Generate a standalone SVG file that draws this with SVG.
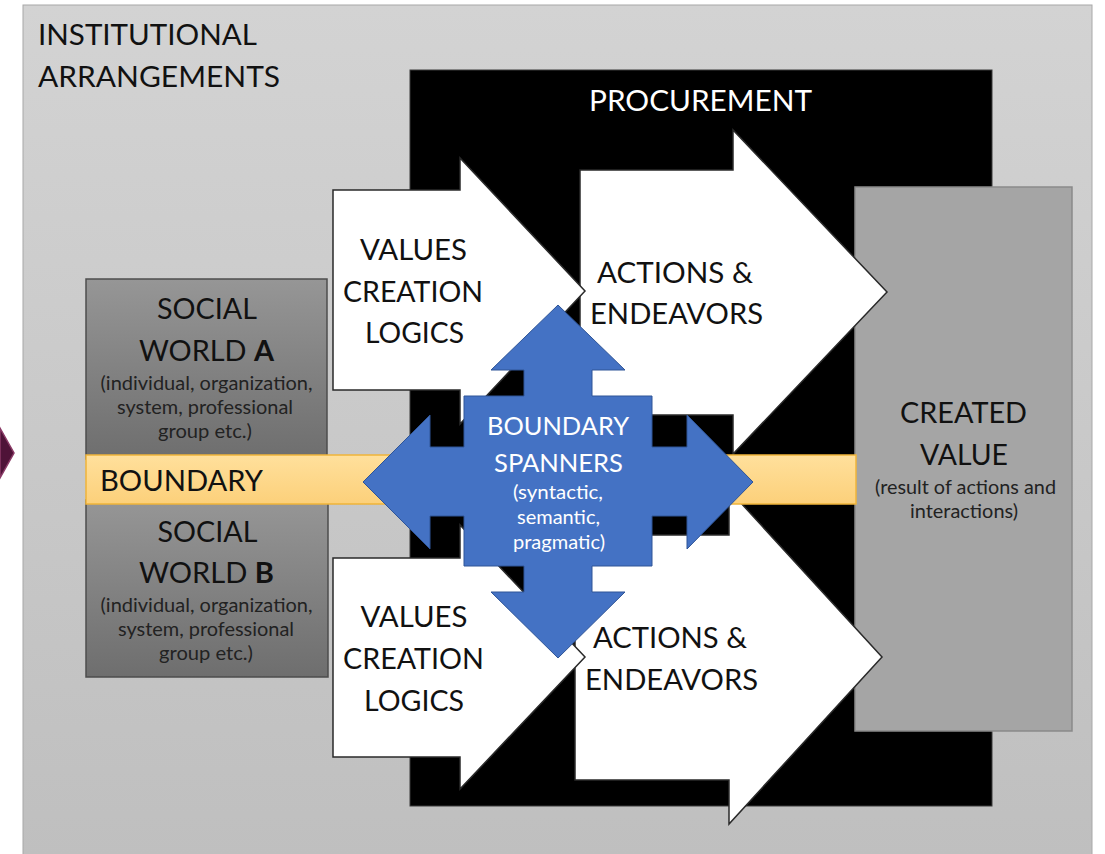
<svg xmlns="http://www.w3.org/2000/svg" width="1105" height="854" viewBox="0 0 1105 854">
<defs>
<linearGradient id="gPanel" x1="0" y1="0" x2="0" y2="1"><stop offset="0" stop-color="#d3d3d3"/><stop offset="1" stop-color="#bfbfbf"/></linearGradient>
<linearGradient id="gWorld" x1="0" y1="0" x2="0" y2="1"><stop offset="0" stop-color="#969696"/><stop offset="1" stop-color="#6e6e6e"/></linearGradient>
<linearGradient id="gBand" x1="0" y1="0" x2="0" y2="1"><stop offset="0" stop-color="#ffe09c"/><stop offset="1" stop-color="#fcd07a"/></linearGradient>
<style>
text{font-family:Lato,"Liberation Sans",Arial,sans-serif;fill:#111;}
.big{font-size:29px;}
.mid{font-size:28px;}
.sm{font-size:19.5px;fill:#222;}
.c{text-anchor:middle;}
.w{fill:#fff;}
.arrow{fill:#fff;stroke:#2a2a2a;stroke-width:1.5;stroke-linejoin:miter;}
.world{fill:url(#gWorld);stroke:#4d4d4d;stroke-width:1.5;}
</style>
</defs>
<rect width="1105" height="854" fill="#fff"/>
<g id="institutional">
<rect x="23" y="5" width="1069" height="852" fill="url(#gPanel)" stroke="#a8a8a8" stroke-width="1"/>
<text class="big" x="38" y="45" textLength="219" lengthAdjust="spacingAndGlyphs">INSTITUTIONAL</text>
<text class="big" x="38" y="87" textLength="242" lengthAdjust="spacingAndGlyphs">ARRANGEMENTS</text>
</g>
<g id="edge-shape">
<polygon points="0,428 14,453 0,478" fill="#4f1338" stroke="#8a3a66" stroke-width="1.5"/>
</g>
<g id="procurement">
<rect x="410" y="70" width="582" height="736" fill="#000" stroke="#3a3a3a" stroke-width="1"/>
<text class="big w c" x="700.5" y="111" textLength="223" lengthAdjust="spacingAndGlyphs">PROCUREMENT</text>
</g>
<g id="created-value">
<rect x="855" y="187" width="217" height="544" fill="#a5a5a5" stroke="#8a8a8a" stroke-width="1.5"/>
<text class="mid c" x="963.5" y="423" textLength="127" lengthAdjust="spacingAndGlyphs">CREATED</text>
<text class="mid c" x="964" y="465" textLength="88" lengthAdjust="spacingAndGlyphs">VALUE</text>
<text class="sm c" x="965.5" y="494" textLength="181" lengthAdjust="spacingAndGlyphs">(result of actions and</text>
<text class="sm c" x="964" y="518" textLength="108" lengthAdjust="spacingAndGlyphs">interactions)</text>
</g>
<g id="social-world-a">
<rect class="world" x="86" y="279" width="241" height="180"/>
<text class="mid c" x="207" y="319" textLength="100" lengthAdjust="spacingAndGlyphs">SOCIAL</text>
<text class="mid c" x="206.5" y="361" textLength="135" lengthAdjust="spacingAndGlyphs">WORLD <tspan font-weight="bold">A</tspan></text>
<text class="sm c" x="206.5" y="390" textLength="212" lengthAdjust="spacingAndGlyphs">(individual, organization,</text>
<text class="sm c" x="205" y="414" textLength="176" lengthAdjust="spacingAndGlyphs">system, professional</text>
<text class="sm c" x="205" y="438" textLength="94" lengthAdjust="spacingAndGlyphs">group etc.)</text>
</g>
<g id="social-world-b">
<rect class="world" x="86" y="500" width="242" height="177"/>
<text class="mid c" x="207.5" y="542" textLength="100" lengthAdjust="spacingAndGlyphs">SOCIAL</text>
<text class="mid c" x="206.5" y="583" textLength="135" lengthAdjust="spacingAndGlyphs">WORLD <tspan font-weight="bold">B</tspan></text>
<text class="sm c" x="206.5" y="612" textLength="212" lengthAdjust="spacingAndGlyphs">(individual, organization,</text>
<text class="sm c" x="206" y="636" textLength="176" lengthAdjust="spacingAndGlyphs">system, professional</text>
<text class="sm c" x="206" y="660" textLength="94" lengthAdjust="spacingAndGlyphs">group etc.)</text>
</g>
<g id="actions-top">
<polygon class="arrow" points="580,170 733,170 733,130 887,292 733,454 733,415 580,415"/>
<text class="mid" x="597" y="283" textLength="156" lengthAdjust="spacingAndGlyphs">ACTIONS &amp;</text>
<text class="mid" x="590" y="324" textLength="173" lengthAdjust="spacingAndGlyphs">ENDEAVORS</text>
</g>
<g id="actions-bottom">
<polygon class="arrow" points="575,535 729,535 729,490 882,657 729,824 729,780 575,780"/>
<text class="mid" x="593" y="648" textLength="154" lengthAdjust="spacingAndGlyphs">ACTIONS &amp;</text>
<text class="mid" x="585" y="690" textLength="173" lengthAdjust="spacingAndGlyphs">ENDEAVORS</text>
</g>
<g id="values-top">
<polygon class="arrow" points="333,190 460,190 460,158 585,291 460,424 460,390 333,390"/>
<text class="mid c" x="413.5" y="260" textLength="107" lengthAdjust="spacingAndGlyphs">VALUES</text>
<text class="mid c" x="413" y="302" textLength="140" lengthAdjust="spacingAndGlyphs">CREATION</text>
<text class="mid c" x="414.5" y="343" textLength="99" lengthAdjust="spacingAndGlyphs">LOGICS</text>
</g>
<g id="values-bottom">
<polygon class="arrow" points="333,558 460,558 460,525 585,657 460,789 460,757 333,757"/>
<text class="mid c" x="414" y="627" textLength="107" lengthAdjust="spacingAndGlyphs">VALUES</text>
<text class="mid c" x="413.5" y="669" textLength="141" lengthAdjust="spacingAndGlyphs">CREATION</text>
<text class="mid c" x="414" y="711" textLength="100" lengthAdjust="spacingAndGlyphs">LOGICS</text>
</g>
<g id="boundary">
<rect x="86" y="455" width="770" height="49" fill="url(#gBand)" stroke="#efb43a" stroke-width="1.5"/>
<text class="big" x="100" y="491" textLength="163" lengthAdjust="spacingAndGlyphs">BOUNDARY</text>
</g>
<g id="boundary-spanners">
<polygon points="558,305 625,370 592,370 592,396 652,396 652,447 687,447 687,415 753,482 687,549 687,516 652,516 652,566 592,566 592,592 625,592 558,658 491,592 524,592 524,566 464,566 464,516 430,516 430,549 363,482 430,415 430,447 464,447 464,396 524,396 524,370 491,370" fill="#4472c4" stroke="#2f5597" stroke-width="1"/>
<text class="w c" x="558" y="435" font-size="25" textLength="142" lengthAdjust="spacingAndGlyphs">BOUNDARY</text>
<text class="w c" x="558.5" y="472" font-size="25" textLength="129" lengthAdjust="spacingAndGlyphs">SPANNERS</text>
<text class="w c" x="558" y="499" font-size="19" textLength="90" lengthAdjust="spacingAndGlyphs">(syntactic,</text>
<text class="w c" x="558.5" y="524" font-size="19" textLength="83" lengthAdjust="spacingAndGlyphs">semantic,</text>
<text class="w c" x="559" y="549" font-size="19" textLength="92" lengthAdjust="spacingAndGlyphs">pragmatic)</text>
</g>
<g id="connectors"></g>
</svg>
